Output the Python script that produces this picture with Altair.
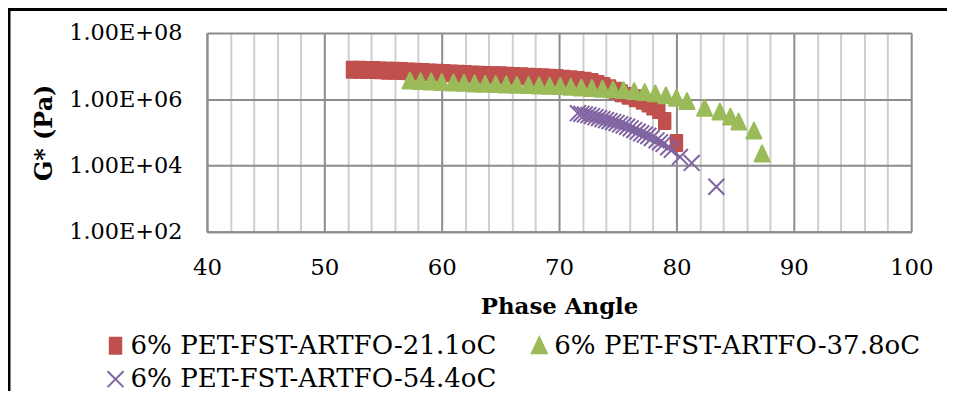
import altair as alt
import pandas as pd

series_names = ["6% PET-FST-ARTFO-21.1oC", "6% PET-FST-ARTFO-37.8oC", "6% PET-FST-ARTFO-54.4oC"]
series_colors = ["#C0504D", "#9BBB59", "#8064A2"]

red_phase = [52.4, 53.0, 53.6, 54.2, 54.8, 55.4, 56.0, 56.6, 57.2, 57.8, 58.4, 59.0, 59.6, 60.2,
             60.8, 61.4, 62.0, 62.6, 63.2, 63.8, 64.4, 65.0, 65.6, 66.2, 66.8, 67.4, 68.0, 68.6,
             69.2, 69.8, 70.4, 71.0, 71.6, 72.2, 72.8, 73.3, 73.8, 74.3, 74.8, 75.3, 75.9, 76.5,
             77.1, 77.6, 78.0, 78.5, 79.0, 80.0]
red_g = [7.76e6, 7.76e6, 7.59e6, 7.59e6, 7.41e6, 7.24e6, 7.24e6, 7.08e6, 6.92e6, 6.76e6, 6.61e6,
         6.46e6, 6.31e6, 6.17e6, 6.03e6, 5.89e6, 5.75e6, 5.62e6, 5.50e6, 5.37e6, 5.25e6, 5.25e6,
         5.13e6, 5.01e6, 4.90e6, 4.79e6, 4.68e6, 4.57e6, 4.47e6, 4.37e6, 4.17e6, 3.98e6, 3.80e6,
         3.63e6, 3.31e6, 2.88e6, 2.51e6, 2.14e6, 1.82e6, 1.51e6, 1.26e6, 1.07e6, 8.91e5, 7.41e5,
         6.03e5, 4.68e5, 2.19e5, 4.79e4]

green_phase = [57.3, 58.2, 59.1, 60.0, 61.0, 61.9, 62.8, 63.7, 64.6, 65.5, 66.4, 67.4, 68.3, 69.2,
               70.1, 71.0, 71.9, 72.8, 73.7, 74.6, 75.5, 76.4, 77.3, 78.2, 79.1, 80.0, 80.9, 82.4,
               83.7, 84.6, 85.3, 86.6, 87.3]
green_g = [3.55e6, 3.39e6, 3.31e6, 3.16e6, 3.09e6, 3.02e6, 2.88e6, 2.82e6, 2.75e6, 2.69e6, 2.63e6,
           2.57e6, 2.51e6, 2.45e6, 2.40e6, 2.29e6, 2.19e6, 2.09e6, 2.00e6, 1.91e6, 1.82e6, 1.70e6,
           1.58e6, 1.45e6, 1.26e6, 1.07e6, 8.51e5, 5.37e5, 4.07e5, 2.88e5, 2.04e5, 1.10e5, 2.24e4]

purple_phase = [71.6, 71.9, 72.2, 72.5, 72.8, 73.1, 73.4, 73.7, 74.0, 74.3, 74.6, 74.9, 75.2, 75.5,
                75.8, 76.1, 76.4, 76.7, 77.0, 77.3, 77.6, 77.9, 78.3, 78.6, 78.9, 79.3, 79.6, 80.3,
                81.3, 83.4]
purple_g = [3.80e5, 3.63e5, 3.47e5, 3.31e5, 3.09e5, 2.88e5, 2.69e5, 2.51e5, 2.34e5, 2.19e5, 2.04e5,
            1.91e5, 1.74e5, 1.62e5, 1.48e5, 1.32e5, 1.17e5, 1.05e5, 9.33e4, 8.51e4, 7.76e4, 6.76e4,
            5.75e4, 5.01e4, 4.47e4, 3.55e4, 2.95e4, 1.82e4, 1.20e4, 2.29e3]

x_grid_values = list(range(40, 101, 2))
y_tick_values = [1e2, 1e4, 1e6, 1e8]

rows = []
for name, xs, gs in zip(series_names, [red_phase, green_phase, purple_phase], [red_g, green_g, purple_g]):
    for x, g in zip(xs, gs):
        rows.append({"series": name, "phase": x, "g": g})
df = pd.DataFrame(rows)

square_path = "M-0.72,-1H0.72V1H-0.72Z"
triangle_path = "M0,-1.06L0.94,0.94L-0.94,0.94Z"
cross_path = "M-1,-1L1,1M-1,1L1,-1"

FONT = "DejaVu Serif"

legend = alt.Legend(
    title=None, orient="none", direction="horizontal", legendX=-105, legendY=301, columns=2,
    columnPadding=30, rowPadding=7, labelFont=FONT, labelFontSize=26.2, labelColor="black",
    symbolSize=256, symbolStrokeWidth=2, labelOffset=2, padding=0, symbolOpacity=1, labelLimit=0,
)

x_axis = alt.Axis(
    values=x_grid_values, labelExpr="datum.value % 10 === 0 ? datum.label : ''",
    ticks=False, labelFlush=False, labelOverlap=False, labelFont=FONT, labelFontSize=23,
    labelColor="black", labelPadding=36, labelBaseline="middle",
    gridColor={"condition": {"test": "datum.value % 10 === 0", "value": "#8C8C8C"}, "value": "#CFCFCF"},
    gridWidth=2, domainColor="#8C8C8C", domainWidth=2,
    title="Phase Angle", titleFont=FONT, titleFontSize=23, titleFontWeight="bold", titleColor="black",
    titleX=354, titleY=75, titleBaseline="middle", titleAlign="center",
)

y_axis = alt.Axis(
    values=y_tick_values,
    labelExpr="'1.00E+' + (round(log(datum.value)/LN10) < 10 ? '0' : '') + round(log(datum.value)/LN10)",
    ticks=False, labelFlush=False, labelOverlap=False, labelFont=FONT, labelFontSize=22.5,
    labelColor="black", labelPadding=25,
    gridColor="#8C8C8C", gridWidth=2, domainColor="#8C8C8C", domainWidth=2,
    title="G* (Pa)", titleFont=FONT, titleFontSize=24, titleFontWeight="bold", titleColor="black",
    titleAngle=270, titleX=-163, titleY=100, titleBaseline="middle", titleAlign="center",
)

points = alt.Chart(df).mark_point(filled=True, opacity=1, strokeWidth=2, strokeJoin="round", size=256).encode(
    x=alt.X("phase:Q", scale=alt.Scale(domain=[40, 100], nice=False, zero=False), axis=x_axis),
    y=alt.Y("g:Q", scale=alt.Scale(type="log", domain=[1e2, 1e8], nice=False), axis=y_axis),
    fill=alt.Fill("series:N", scale=alt.Scale(domain=series_names, range=series_colors), legend=legend),
    stroke=alt.Stroke("series:N", scale=alt.Scale(domain=series_names, range=series_colors), legend=legend),
    shape=alt.Shape("series:N", scale=alt.Scale(domain=series_names, range=[square_path, triangle_path, cross_path]), legend=legend),
)

frame_df = pd.DataFrame({"k": [0]})
left_edge = alt.Chart(frame_df).mark_rule(color="black", strokeWidth=3).encode(
    x=alt.value(-199), y=alt.value(-24), y2=alt.value(360)
)
top_edge = alt.Chart(frame_df).mark_rule(color="black", strokeWidth=3).encode(
    x=alt.value(-200), x2=alt.value(744), y=alt.value(-23.5)
)

chart = alt.layer(points, left_edge, top_edge).properties(
    width=708, height=200,
    autosize=alt.AutoSizeParams(type="none"),
    padding={"left": 200, "top": 24, "right": 36, "bottom": 160},
).configure_view(stroke=None).configure(background="white")

chart.save("out.html", embed_options={"renderer": "svg", "actions": False})
